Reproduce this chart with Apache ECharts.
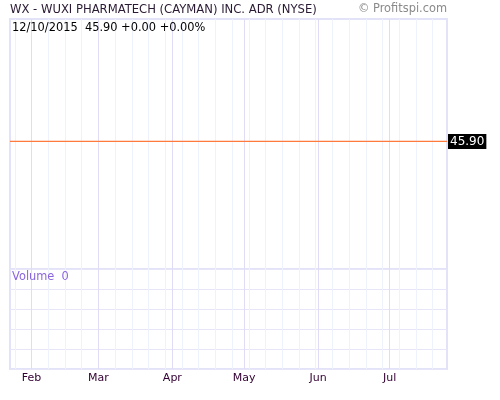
<!DOCTYPE html>
<html>
<head>
<meta charset="utf-8">
<script src="https://cdn.jsdelivr.net/npm/echarts@6/dist/echarts.min.js"></script>
<style>
  html, body { margin: 0; padding: 0; background: #fff; }
  #chart { width: 500px; height: 400px; }
</style>
</head>
<body>
<div id="chart"></div>
<script>
// chart data
const symbolTitle = 'WX - WUXI PHARMATECH (CAYMAN) INC. ADR (NYSE)'
const copyright = '© Profitspi.com'
const lastDate = '12/10/2015'
const lastClose = 45.90
const change = 0.00
const changePct = 0.00
const lastVolume = 0
const startDate = '2015-01-23'
const endDate = '2015-07-25'
const monthLabels = ['Jan', 'Feb', 'Mar', 'Apr', 'May', 'Jun', 'Jul', 'Aug', 'Sep', 'Oct', 'Nov', 'Dec']
// price line (flat from first to last day)
const priceDates = ['2015-01-23', '2015-07-25']
const priceValues = [45.90, 45.90]

// build the day list for the x axis
let days = []
let d = new Date(startDate + 'T00:00:00Z')
const end = new Date(endDate + 'T00:00:00Z')
while (d <= end) {
  days.push(d.toISOString().slice(0, 10))
  d = new Date(d.getTime() + 24 * 60 * 60 * 1000)
}

const dayOf = v => new Date(v + 'T00:00:00Z')
// weekly lines on sundays, month lines on the 1st
const isWeek = (i, v) => dayOf(v).getUTCDay() === 0 && dayOf(v).getUTCDate() !== 1
const isMonth = (i, v) => dayOf(v).getUTCDate() === 1

const font = 'DejaVu Sans, Verdana, sans-serif'
const priceColor = '#ff7a3d'
const weekColor = '#eef2fd'
const monthColor = '#e0dcf6'
const borderColor = '#e2e2f8'

function xAxisFor(gridIndex, kind, withLabels) {
  return {
    type: 'category',
    gridIndex: gridIndex,
    data: days,
    boundaryGap: false,
    position: 'bottom',
    axisLine: { show: false, onZero: false },
    axisTick: { show: false },
    axisLabel: {
      show: withLabels,
      interval: isMonth,
      margin: 4,
      color: '#330033',
      fontFamily: font,
      fontSize: 11,
      formatter: v => monthLabels[dayOf(v).getUTCMonth()]
    },
    splitLine: {
      show: true,
      interval: kind === 'week' ? isWeek : isMonth,
      lineStyle: { color: kind === 'week' ? weekColor : monthColor, width: 1 }
    }
  }
}

const chart = echarts.init(document.getElementById('chart'), null, { renderer: 'canvas' })

const option = {
  animation: false,
  title: [
    {
      text: symbolTitle,
      left: 10, top: 4, padding: 0,
      textStyle: { fontFamily: font, fontSize: 11.6, fontWeight: 'normal', color: '#2a1a33' }
    },
    {
      text: copyright,
      right: 53, top: 4, padding: 0,
      textStyle: { fontFamily: font, fontSize: 11.4, fontWeight: 'normal', color: '#8a8a8a' }
    },
    {
      text: lastDate + '  ' + lastClose.toFixed(2) + ' +' + change.toFixed(2) + ' +' + changePct.toFixed(2) + '%',
      left: 12, top: 23, padding: 0,
      textStyle: { fontFamily: font, fontSize: 11.4, fontWeight: 'normal', color: '#000' }
    },
    {
      text: 'Volume  ' + lastVolume,
      left: 12, top: 272, padding: 0,
      textStyle: { fontFamily: font, fontSize: 11.4, fontWeight: 'normal', color: '#8a66dd' }
    }
  ],
  grid: [
    { left: 10, right: 53, top: 19, height: 250, show: true, borderColor: borderColor, borderWidth: 2, backgroundColor: 'transparent' },
    { left: 10, right: 53, top: 269, height: 100, show: true, borderColor: borderColor, borderWidth: 2, backgroundColor: 'transparent' }
  ],
  xAxis: [
    xAxisFor(0, 'week', false),
    xAxisFor(0, 'month', false),
    xAxisFor(1, 'week', false),
    xAxisFor(1, 'month', true)
  ],
  yAxis: [
    {
      type: 'value', gridIndex: 0,
      min: 44.9, max: 46.86,
      axisLine: { show: false }, axisTick: { show: false }, axisLabel: { show: false },
      splitLine: { show: false }
    },
    {
      type: 'value', gridIndex: 1,
      min: 0, max: 5, interval: 1,
      axisLine: { show: false }, axisTick: { show: false }, axisLabel: { show: false },
      splitLine: { show: true, lineStyle: { color: '#e6e6f8', width: 1 } }
    }
  ],
  series: [
    {
      name: 'Close',
      type: 'line',
      xAxisIndex: 1, yAxisIndex: 0,
      data: priceDates.map((t, i) => [t, priceValues[i]]),
      showSymbol: false,
      silent: true,
      z: 10,
      color: priceColor,
      lineStyle: { color: priceColor, width: 1.2 },
      endLabel: {
        show: true,
        distance: 1,
        formatter: p => p.value[1].toFixed(2),
        color: '#fff',
        backgroundColor: '#000',
        padding: [2, 2, 1, 2],
        fontFamily: font,
        fontSize: 12
      }
    },
    {
      name: 'Volume',
      type: 'bar',
      xAxisIndex: 3, yAxisIndex: 1,
      data: [[days[days.length - 1], lastVolume]],
      itemStyle: { color: '#8a66dd' }
    }
  ]
}

chart.setOption(option)
</script>
</body>
</html>
